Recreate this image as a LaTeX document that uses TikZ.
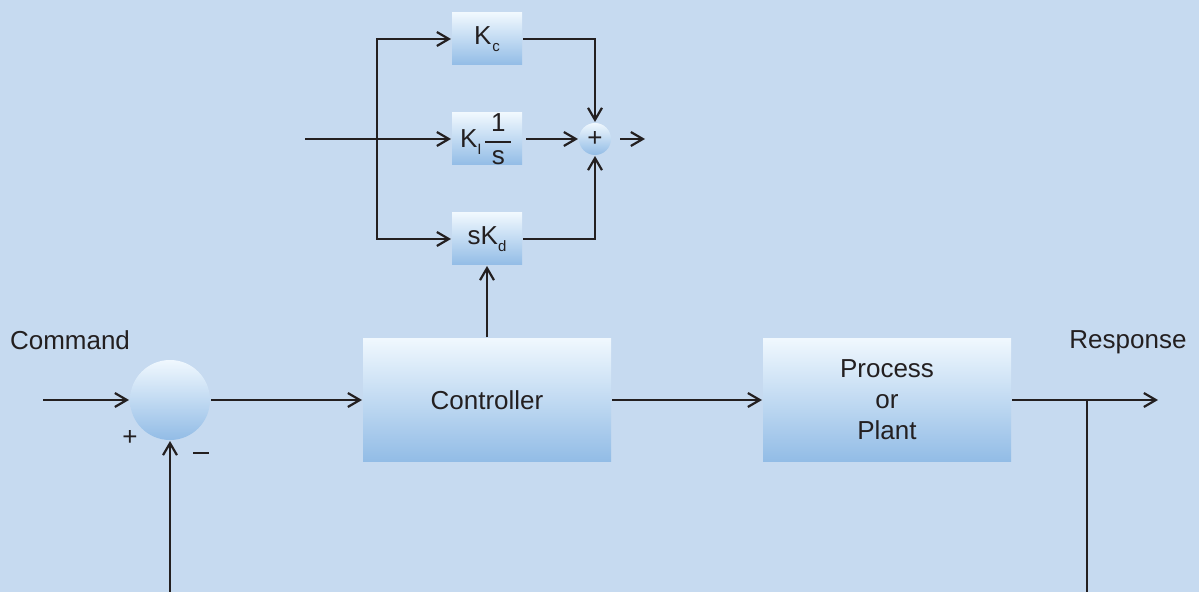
\documentclass[tikz,border=0pt]{standalone}
\usepackage{fontspec}
\setmainfont{Liberation Sans}
\usetikzlibrary{arrows.meta}
\definecolor{bg}{RGB}{198,218,240}
\definecolor{boxtop}{RGB}{240,248,254}
\definecolor{boxbot}{RGB}{146,188,230}
\definecolor{ink}{RGB}{35,31,32}
\newcommand{\lowsub}[1]{\raisebox{-3.5pt}{\fontsize{7.5}{8}\selectfont #1}}
\begin{document}
\begin{tikzpicture}[x=0.5pt,y=-0.5pt, line width=1pt, draw=ink,
  >={Straight Barb[length=6pt,width=7pt,line width=1.1pt]},
  blk/.style={draw=none, top color=boxtop, bottom color=boxbot, inner sep=0pt,
    text=ink, align=center, font=\fontsize{13}{15.5}\selectfont},
  gain/.style={blk, minimum width=35pt, minimum height=26pt},
  big/.style={blk, minimum width=124pt, minimum height=61.5pt},
  sumc/.style={circle, draw=none, top color=boxtop, bottom color=boxbot, inner sep=0pt, text=ink},
  lbl/.style={text=ink, inner sep=0pt, font=\fontsize{13}{15.5}\selectfont}]
\fill[bg] (0,0) rectangle (1199,592);
\useasboundingbox (0,0) rectangle (1199,592);

% PID detail
\node[gain] (kc) at (487,39) {K\kern0.5pt\lowsub{c}};
\node[gain] (ki) at (487,139) {K\lowsub{I}\kern0.5pt$\displaystyle{\hbox{\kern3pt 1\kern3pt}\above1.1pt\hbox{\kern3pt s\kern3pt}}$};
\node[gain] (kd) at (487,239) {sK\lowsub{d}};
\node[sumc, minimum size=16pt, font=\fontsize{13}{15}\selectfont] (s1) at (595,139) {\raisebox{-0.5pt}{+}};

\coordinate (pin) at (305,139);
\coordinate (br) at (377,139);
\coordinate (pout) at (645,139);
\draw[->] (pin) -- (ki.west);
\draw[->] (br) |- (kc.west);
\draw[->] (br) |- (kd.west);
\draw[->] (kc.east) -| (s1.north);
\draw[->, shorten <=1.5pt] (ki.east) -- (s1.west);
\draw[->] (kd.east) -| (s1.south);
\draw[->, shorten <=4pt] (s1.east) -- (pout);

% main loop
\node[sumc, minimum size=40pt] (sum) at (170,400) {};
\node[big] (ctrl) at (487,400) {Controller};
\node[big] (plant) at (887,400) {Process\\or\\Plant};
\node[lbl, anchor=base] (cmd) at (70,350) {Command};
\node[lbl, anchor=base] (resp) at (1128,349) {Response};
\node[lbl] (plus) at (130,438) {+};
\node[lbl] (minus) at (201,453) {\rule{7.8pt}{1.3pt}};

\coordinate (cin) at (43,400);
\coordinate (out) at (1158,400);
\coordinate (tap) at (1087,400);
\coordinate (fbr) at (1087,592);
\coordinate (fbl) at (170,592);
\draw[->] (cin) -- (sum.west);
\draw[->] (sum.east) -- (ctrl.west);
\draw[->] (ctrl.east) -- (plant.west);
\draw[->] (plant.east) -- (out);
\draw (tap) -- (fbr);
\draw[->] (fbl) -- (sum.south);
\draw[->] (ctrl.north) -- (kd.south);
\end{tikzpicture}
\end{document}
